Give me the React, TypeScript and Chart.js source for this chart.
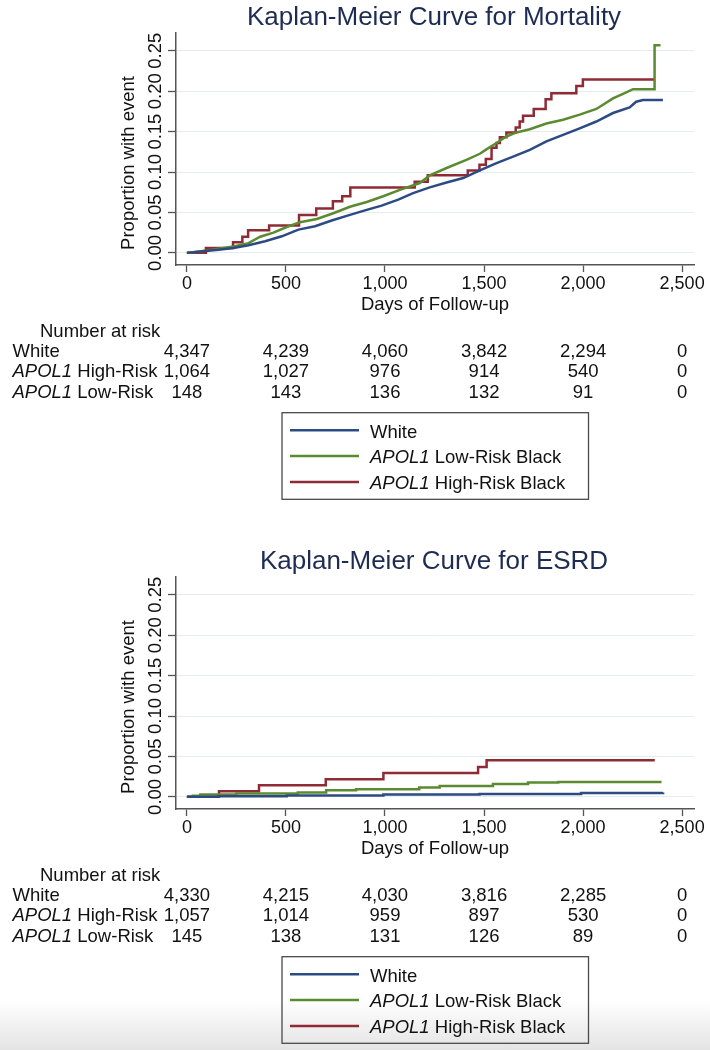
import React, { useEffect, useRef } from 'react';
import { Chart, registerables } from 'chart.js';

Chart.register(...registerables);

const FONT = '"Liberation Sans", Arial, Helvetica, sans-serif';
const TEXT_COLOR = '#111111';
const TITLE_COLOR = '#1e2b52';
const AXIS_COLOR = '#555555';
const GRID_COLOR = '#e2ecf2';

const xTickValues = [0, 500, 1000, 1500, 2000, 2500];
const yTickValues = [0, 0.05, 0.1, 0.15, 0.2, 0.25];

const legendItalic = ['', 'APOL1', 'APOL1'];
const legendRest = ['White', ' Low-Risk Black', ' High-Risk Black'];
const seriesColors = ['#2c4b83', '#5c8a30', '#8f2b35'];

const riskItalic = ['', 'APOL1', 'APOL1'];
const riskRest = ['White', ' High-Risk', ' Low-Risk'];

const mortalityTitle = 'Kaplan-Meier Curve for Mortality';
const esrdTitle = 'Kaplan-Meier Curve for ESRD';
const yAxisTitle = 'Proportion with event';
const xAxisTitle = 'Days of Follow-up';
const riskHeader = 'Number at risk';

// Mortality: [day, proportion]
const mortalityWhite = [
  [0, 0], [80, 0.002], [160, 0.004], [235, 0.006], [311, 0.0094], [395, 0.0143],
  [479, 0.0205], [563, 0.0288], [647, 0.033], [731, 0.04], [815, 0.0464],
  [899, 0.0526], [983, 0.0584], [1067, 0.0658], [1142, 0.074], [1226, 0.081],
  [1311, 0.087], [1395, 0.0926], [1479, 0.102], [1563, 0.111], [1647, 0.119],
  [1731, 0.1275], [1815, 0.138], [1899, 0.146], [1983, 0.154], [2067, 0.1625],
  [2151, 0.173], [2235, 0.18], [2268, 0.187], [2302, 0.189], [2403, 0.189],
];
const mortalityLow = [
  [0, 0], [100, 0.003], [235, 0.008], [311, 0.012], [370, 0.02], [437, 0.025],
  [504, 0.032], [571, 0.038], [656, 0.042], [739, 0.049], [823, 0.057],
  [908, 0.063], [991, 0.07], [1075, 0.078], [1176, 0.0864], [1226, 0.0958],
  [1311, 0.105], [1411, 0.115], [1479, 0.1226], [1512, 0.128], [1563, 0.136],
  [1613, 0.144], [1664, 0.149], [1731, 0.153], [1815, 0.16], [1899, 0.1646],
  [1983, 0.171], [2067, 0.178], [2151, 0.191], [2210, 0.1975], [2252, 0.2025],
  [2361, 0.2025], [2361, 0.257], [2391, 0.257],
];
const mortalityHigh = [
  [0, 0], [96, 0.006], [233, 0.013], [280, 0.02], [309, 0.028], [415, 0.034],
  [566, 0.047], [653, 0.055], [737, 0.064], [784, 0.07], [825, 0.081],
  [1150, 0.088], [1216, 0.096], [1418, 0.102], [1477, 0.109], [1509, 0.116],
  [1538, 0.13], [1563, 0.136], [1580, 0.143], [1613, 0.149], [1660, 0.155],
  [1680, 0.1625], [1697, 0.1695], [1751, 0.178], [1811, 0.19], [1840, 0.1975],
  [1966, 0.2065], [1999, 0.2145], [2361, 0.2145],
];

// ESRD: [day, proportion]
const esrdWhite = [
  [0, 0], [160, 0.0008], [504, 0.0016], [992, 0.0029], [1477, 0.0035],
  [1990, 0.0049], [2404, 0.0054],
];
const esrdLow = [
  [0, 0], [30, 0.0015], [68, 0.0029], [250, 0.0041], [560, 0.0054],
  [703, 0.0082], [854, 0.0095], [1173, 0.0115], [1276, 0.0136], [1545, 0.016],
  [1722, 0.0177], [1874, 0.0185], [2396, 0.0185],
];
const esrdHigh = [
  [0, 0], [162, 0.007], [364, 0.0144], [701, 0.0218], [992, 0.0296],
  [1470, 0.037], [1513, 0.0453], [2362, 0.0453],
];

const mortalityRiskWhite = [4347, 4239, 4060, 3842, 2294, 0];
const mortalityRiskHigh = [1064, 1027, 976, 914, 540, 0];
const mortalityRiskLow = [148, 143, 136, 132, 91, 0];
const esrdRiskWhite = [4330, 4215, 4030, 3816, 2285, 0];
const esrdRiskHigh = [1057, 1014, 959, 897, 530, 0];
const esrdRiskLow = [145, 138, 131, 126, 89, 0];

function drawMixed(ctx: CanvasRenderingContext2D, italic: string, rest: string, x: number, y: number, size: number) {
  ctx.textAlign = 'left';
  let cx = x;
  if (italic) {
    ctx.font = `italic ${size}px ${FONT}`;
    ctx.fillText(italic, cx, y);
    cx += ctx.measureText(italic).width;
  }
  ctx.font = `${size}px ${FONT}`;
  ctx.fillText(rest, cx, y);
}

const kmExtras = {
  id: 'kmExtras',
  afterDraw(chart: any, _args: any, opts: any) {
    const { ctx, chartArea: ca, scales } = chart;
    const xs = scales.x;
    const base = ca.bottom;
    const cx = (ca.left + ca.right) / 2;
    ctx.save();
    ctx.textBaseline = 'alphabetic';
    // title
    ctx.fillStyle = TITLE_COLOR;
    ctx.font = `26px ${FONT}`;
    ctx.textAlign = 'center';
    ctx.fillText(opts.title, cx - 1, 25);
    // y-axis title
    ctx.save();
    ctx.translate(133.5, 163);
    ctx.rotate(-Math.PI / 2);
    ctx.fillStyle = TEXT_COLOR;
    ctx.font = `18.5px ${FONT}`;
    ctx.textAlign = 'center';
    ctx.fillText(yAxisTitle, 0, 0);
    ctx.restore();
    // risk table
    ctx.fillStyle = TEXT_COLOR;
    ctx.font = `18.5px ${FONT}`;
    ctx.textAlign = 'left';
    ctx.fillText(riskHeader, 40, base + 71.5);
    const rows = opts.risk as number[][];
    rows.forEach((vals, i) => {
      const by = base + 91.7 + i * 20.7;
      drawMixed(ctx, riskItalic[i], riskRest[i], 12.5, by, 18.5);
      ctx.font = `18.5px ${FONT}`;
      ctx.textAlign = 'center';
      vals.forEach((v, j) => {
        ctx.fillText(v.toLocaleString('en-US'), xs.getPixelForValue(xTickValues[j]), by);
      });
    });
    // legend
    const bx = 282, by0 = base + 147.7, bw = 306.5, bh = 86.6;
    ctx.strokeStyle = '#4a4a4a';
    ctx.lineWidth = 1.3;
    ctx.strokeRect(bx, by0, bw, bh);
    for (let i = 0; i < 3; i++) {
      const ly = by0 + 17.5 + i * 25.9;
      ctx.strokeStyle = seriesColors[i];
      ctx.lineWidth = 2.5;
      ctx.beginPath();
      ctx.moveTo(290, ly);
      ctx.lineTo(359, ly);
      ctx.stroke();
      ctx.fillStyle = TEXT_COLOR;
      drawMixed(ctx, legendItalic[i], legendRest[i], 370, ly + 7.3, 18.5);
    }
    ctx.restore();
  },
};

function buildConfig(title: string, series: number[][][], stepped: boolean[], risk: number[][], canvasHeight: number): any {
  const toPts = (a: number[][]) => a.map(([x, y]) => ({ x, y }));
  return {
    type: 'line',
    data: {
      datasets: series.map((s, i) => ({
        label: legendRest[i],
        data: toPts(s),
        borderColor: seriesColors[i],
        backgroundColor: seriesColors[i],
        borderWidth: 2.5,
        pointRadius: 0,
        fill: false,
        tension: 0,
        stepped: stepped[i] ? 'before' : false,
      })),
    },
    options: {
      animation: false,
      responsive: false,
      maintainAspectRatio: false,
      devicePixelRatio: 1,
      layout: { padding: { top: 33, left: 0, right: 16, bottom: canvasHeight - 316 } },
      plugins: {
        legend: { display: false },
        tooltip: { enabled: false },
        title: { display: false },
        kmExtras: { title, risk },
      },
      scales: {
        x: {
          type: 'linear',
          min: -55,
          max: 2560,
          afterFit: (s: any) => { s.height = 51; },
          afterBuildTicks: (s: any) => { s.ticks = xTickValues.map((v) => ({ value: v })); },
          grid: { display: true, drawOnChartArea: false, drawTicks: true, tickLength: 7, tickColor: AXIS_COLOR, tickWidth: 1.3 },
          border: { display: true, color: AXIS_COLOR, width: 1.5 },
          ticks: {
            autoSkip: false, maxRotation: 0, minRotation: 0, padding: 1,
            color: TEXT_COLOR, font: { family: FONT, size: 18 },
            callback: (v: number) => Number(v).toLocaleString('en-US'),
          },
          title: { display: true, text: xAxisTitle, color: TEXT_COLOR, font: { family: FONT, size: 18.5 }, padding: 0 },
        },
        y: {
          type: 'linear',
          min: -0.015,
          max: 0.272,
          afterFit: (s: any) => { s.width = 176; },
          afterBuildTicks: (s: any) => { s.ticks = yTickValues.map((v) => ({ value: v })); },
          grid: { display: true, drawOnChartArea: true, color: GRID_COLOR, lineWidth: 1, drawTicks: true, tickLength: 8, tickColor: AXIS_COLOR, tickWidth: 1.3 },
          border: { display: true, color: AXIS_COLOR, width: 1.5 },
          ticks: {
            autoSkip: false, minRotation: 90, maxRotation: 90, crossAlign: 'center', padding: -6,
            color: TEXT_COLOR, font: { family: FONT, size: 18.5 },
            callback: (v: number) => Number(v).toFixed(2),
          },
          title: { display: false },
        },
      },
    },
    plugins: [kmExtras],
  };
}

const TOP_H = 544;
const BOTTOM_H = 506;

export default function App() {
  const topRef = useRef<HTMLCanvasElement>(null);
  const botRef = useRef<HTMLCanvasElement>(null);

  useEffect(() => {
    document.body.style.margin = '0';
    const c1 = new Chart(topRef.current as HTMLCanvasElement, buildConfig(
      mortalityTitle,
      [mortalityWhite, mortalityLow, mortalityHigh],
      [false, false, true],
      [mortalityRiskWhite, mortalityRiskHigh, mortalityRiskLow],
      TOP_H,
    ));
    const c2 = new Chart(botRef.current as HTMLCanvasElement, buildConfig(
      esrdTitle,
      [esrdWhite, esrdLow, esrdHigh],
      [true, true, true],
      [esrdRiskWhite, esrdRiskHigh, esrdRiskLow],
      BOTTOM_H,
    ));
    return () => { c1.destroy(); c2.destroy(); };
  }, []);

  return (
    <div style={{
      position: 'relative', width: 710, height: 1050, overflow: 'hidden',
      background: 'linear-gradient(to bottom, #ffffff 0px, #ffffff 1000px, #e4e4e4 1050px)',
    }}>
      <canvas ref={topRef} width={710} height={TOP_H} style={{ position: 'absolute', left: 0, top: 0, width: 710, height: TOP_H }} />
      <canvas ref={botRef} width={710} height={BOTTOM_H} style={{ position: 'absolute', left: 0, top: TOP_H, width: 710, height: BOTTOM_H }} />
    </div>
  );
}
